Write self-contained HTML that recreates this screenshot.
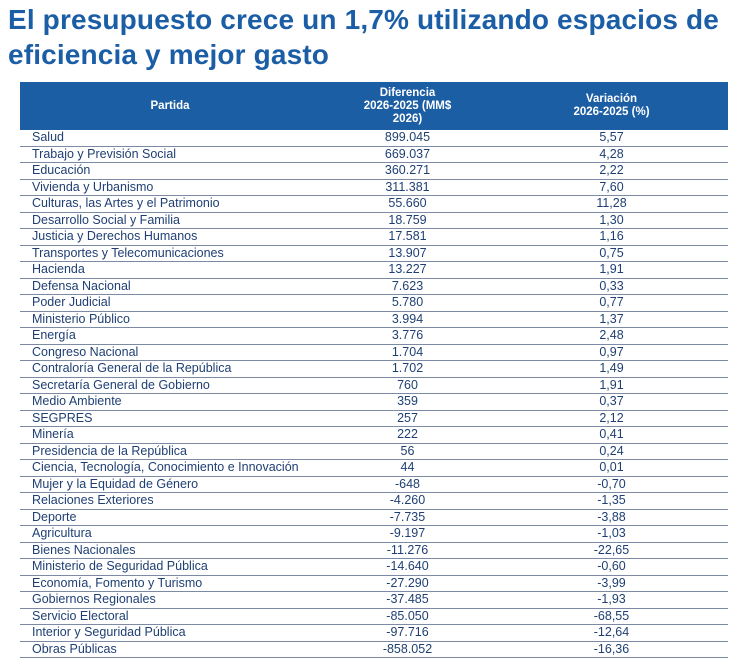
<!DOCTYPE html>
<html><head><meta charset="utf-8"><style>
body{margin:0;background:#fff;width:740px;height:668px;overflow:hidden;font-family:"Liberation Sans",sans-serif;}
h1{position:absolute;left:8px;top:2px;margin:0;font-size:28px;line-height:35px;color:#1b5ea6;font-weight:bold;white-space:nowrap;letter-spacing:0.15px;}
table{position:absolute;left:20px;top:82px;width:708px;border-collapse:collapse;color:#1f3f73;font-size:12.5px;}
th{background:#1c5ea3;color:#fff;font-weight:bold;font-size:11.5px;line-height:13px;height:48px;padding:0;}
td{height:15.5px;padding:0;line-height:15px;border-bottom:1px solid #7d8aa3;}
td:first-child{padding-left:12px;}
td:nth-child(2),td:nth-child(3){text-align:center;}
</style></head><body>
<h1>El presupuesto crece un 1,7% utilizando espacios de<br>eficiencia y mejor gasto</h1>
<table>
<colgroup><col style="width:300px"><col style="width:175px"><col style="width:233px"></colgroup>
<tr><th>Partida</th><th>Diferencia<br>2026-2025 (MM$<br>2026)</th><th>Variación<br>2026-2025 (%)</th></tr>
<tr><td>Salud</td><td>899.045</td><td>5,57</td></tr>
<tr><td>Trabajo y Previsión Social</td><td>669.037</td><td>4,28</td></tr>
<tr><td>Educación</td><td>360.271</td><td>2,22</td></tr>
<tr><td>Vivienda y Urbanismo</td><td>311.381</td><td>7,60</td></tr>
<tr><td>Culturas, las Artes y el Patrimonio</td><td>55.660</td><td>11,28</td></tr>
<tr><td>Desarrollo Social y Familia</td><td>18.759</td><td>1,30</td></tr>
<tr><td>Justicia y Derechos Humanos</td><td>17.581</td><td>1,16</td></tr>
<tr><td>Transportes y Telecomunicaciones</td><td>13.907</td><td>0,75</td></tr>
<tr><td>Hacienda</td><td>13.227</td><td>1,91</td></tr>
<tr><td>Defensa Nacional</td><td>7.623</td><td>0,33</td></tr>
<tr><td>Poder Judicial</td><td>5.780</td><td>0,77</td></tr>
<tr><td>Ministerio Público</td><td>3.994</td><td>1,37</td></tr>
<tr><td>Energía</td><td>3.776</td><td>2,48</td></tr>
<tr><td>Congreso Nacional</td><td>1.704</td><td>0,97</td></tr>
<tr><td>Contraloría General de la República</td><td>1.702</td><td>1,49</td></tr>
<tr><td>Secretaría General de Gobierno</td><td>760</td><td>1,91</td></tr>
<tr><td>Medio Ambiente</td><td>359</td><td>0,37</td></tr>
<tr><td>SEGPRES</td><td>257</td><td>2,12</td></tr>
<tr><td>Minería</td><td>222</td><td>0,41</td></tr>
<tr><td>Presidencia de la República</td><td>56</td><td>0,24</td></tr>
<tr><td>Ciencia, Tecnología, Conocimiento e Innovación</td><td>44</td><td>0,01</td></tr>
<tr><td>Mujer y la Equidad de Género</td><td>-648</td><td>-0,70</td></tr>
<tr><td>Relaciones Exteriores</td><td>-4.260</td><td>-1,35</td></tr>
<tr><td>Deporte</td><td>-7.735</td><td>-3,88</td></tr>
<tr><td>Agricultura</td><td>-9.197</td><td>-1,03</td></tr>
<tr><td>Bienes Nacionales</td><td>-11.276</td><td>-22,65</td></tr>
<tr><td>Ministerio de Seguridad Pública</td><td>-14.640</td><td>-0,60</td></tr>
<tr><td>Economía, Fomento y Turismo</td><td>-27.290</td><td>-3,99</td></tr>
<tr><td>Gobiernos Regionales</td><td>-37.485</td><td>-1,93</td></tr>
<tr><td>Servicio Electoral</td><td>-85.050</td><td>-68,55</td></tr>
<tr><td>Interior y Seguridad Pública</td><td>-97.716</td><td>-12,64</td></tr>
<tr><td>Obras Públicas</td><td>-858.052</td><td>-16,36</td></tr>
</table>
</body></html>
